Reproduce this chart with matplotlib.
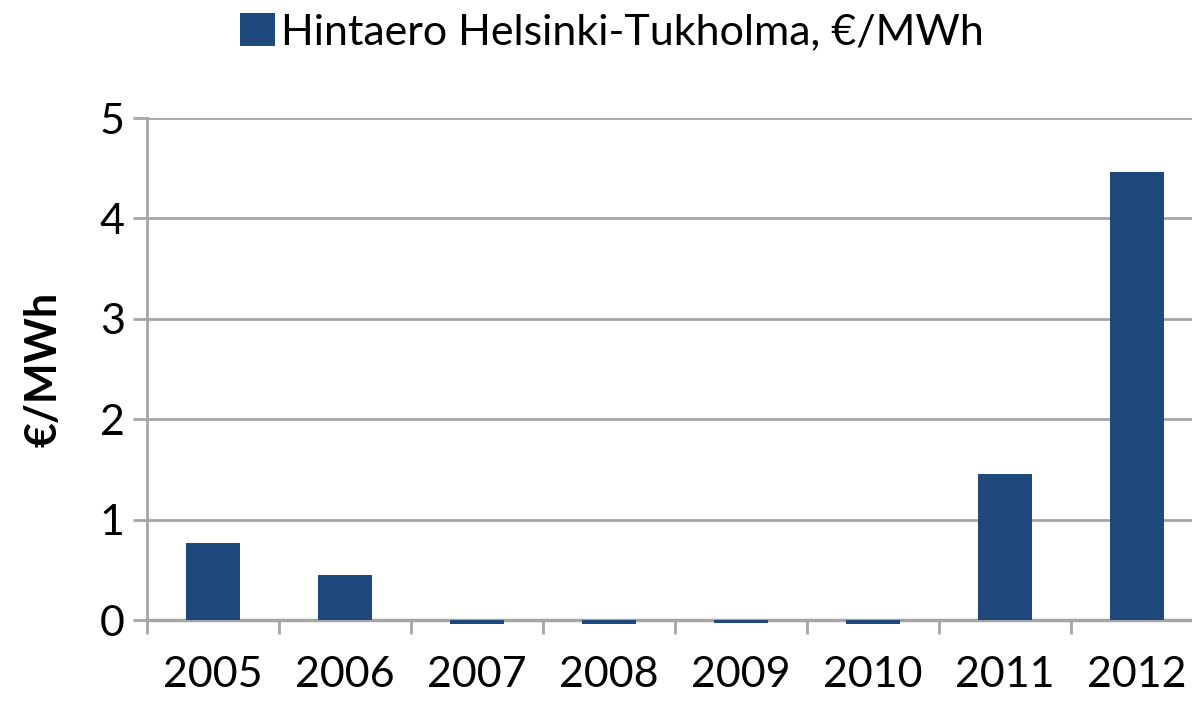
import matplotlib.pyplot as plt
import numpy as np

# values
years = ["2005", "2006", "2007", "2008", "2009", "2010", "2011", "2012"]
price_gap = [0.77, 0.45, -0.04, -0.04, -0.03, -0.04, 1.45, 4.46]
series_label = "Hintaero Helsinki-Tukholma, €/MWh"
y_label = "€/MWh"
y_ticks = [0, 1, 2, 3, 4, 5]

BAR_COLOR = "#1F497D"
GRID_COLOR = "#A6A6A6"

plt.rcParams['font.family'] = ['Lato', 'DejaVu Sans']

fig = plt.figure(figsize=(11.92, 7.05), dpi=100)
ax = fig.add_axes([147 / 1192, 85 / 705, 1056 / 1192, 502 / 705])

x = np.arange(len(years))
bars = ax.bar(x, price_gap, width=0.41, color=BAR_COLOR, zorder=3,
              clip_on=False, label=series_label)

ax.set_xlim(-0.5, len(years) - 0.5)
ax.set_ylim(0, 5)
ax.set_yticks(y_ticks)
ax.yaxis.grid(True, color=GRID_COLOR, linewidth=2, zorder=0)
ax.set_axisbelow(True)

# category labels in the middle, tick marks at category boundaries
ax.set_xticks(x)
ax.set_xticklabels(years)
ax.set_xticks(np.arange(-0.5, len(years) + 0.5, 1), minor=True)
ax.tick_params(axis='x', which='major', length=0, pad=26, labelsize=31)
ax.tick_params(axis='x', which='minor', length=10, width=2, color=GRID_COLOR)
ax.tick_params(axis='y', length=10, width=2, color=GRID_COLOR, labelsize=31, pad=6)

for side in ["top", "right"]:
    ax.spines[side].set_visible(False)
ax.spines["left"].set_color(GRID_COLOR)
ax.spines["left"].set_linewidth(2)
ax.spines["bottom"].set_color(GRID_COLOR)
ax.spines["bottom"].set_linewidth(2.5)

ax.set_ylabel(y_label, fontsize=31, fontweight="bold", labelpad=26)

fig.legend(handles=[bars], labels=[series_label], loc="center",
           bbox_to_anchor=(612 / 1192, 1 - 32 / 705), frameon=False,
           fontsize=31, handlelength=0.8, handleheight=0.8, handletextpad=0.15)

fig.savefig("out.png", dpi=100)
